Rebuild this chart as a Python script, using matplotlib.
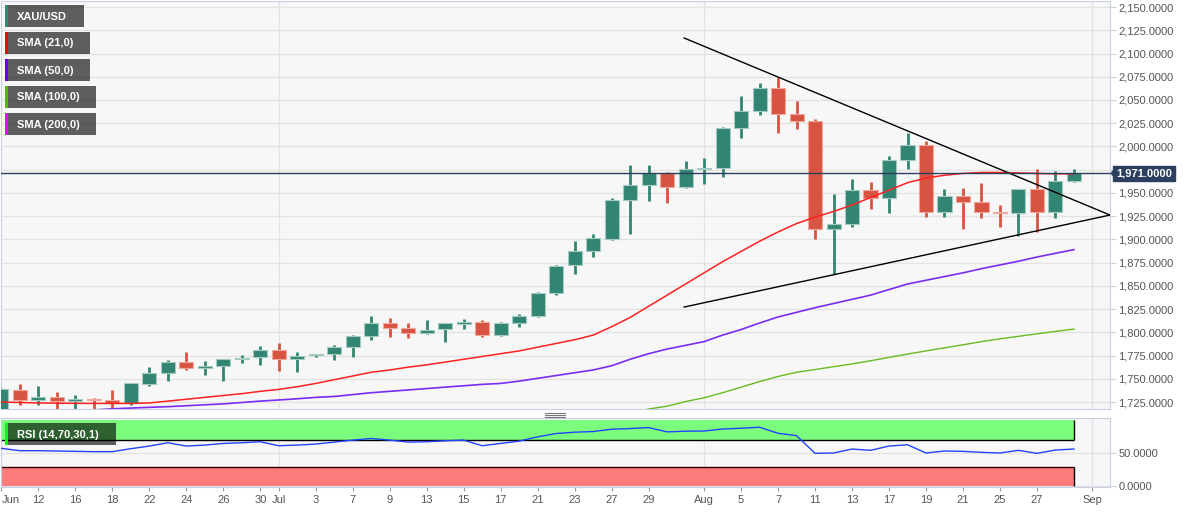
import matplotlib.pyplot as plt
from matplotlib.patches import Rectangle, Polygon
from matplotlib.lines import Line2D
import numpy as np

plt.rcParams['font.family'] = ['Liberation Sans', 'DejaVu Sans']

W, H = 1194, 513
nan = np.nan

# daily XAU/USD candles, 10 Jun .. 31 Aug 2020 (one per trading day)
opens = [1715, 1738, 1727.2, 1730.7, 1726, 1727.8, 1727.2, 1723.6, 1744.4, 1755.9,
         1768.4, 1761.2, 1764, 1771.3, 1773, 1781, 1771, 1775.2, 1776.6, 1784.5,
         1796, 1809.7, 1804.3, 1799.6, 1803.3, 1809, 1810.8, 1797.4, 1810.3, 1817.9,
         1842, 1872.4, 1887.5, 1900.5, 1942.4, 1958.6, 1971.5, 1956.4, 1975.5, 1976.8,
         2019.8, 2038, 2063, 2035, 2027.5, 1911, 1916.5, 1953, 1944.5, 1985.4,
         2002, 1929, 1946.7, 1940.5, 1929, 1928.7, 1953.8, 1929.7, 1963]
highs = [1740, 1744.4, 1742.2, 1736, 1732.5, 1729.6, 1738, 1746, 1763, 1770,
         1779, 1769, 1771.5, 1775.6, 1785.3, 1788, 1778.5, 1777, 1786.3, 1797,
         1817.5, 1815.4, 1809.7, 1813, 1810.5, 1814, 1813, 1810.8, 1819.7, 1843.4,
         1872.5, 1898, 1905.8, 1944.6, 1980, 1980, 1972, 1984, 1987.5, 2020.5,
         2054, 2068, 2075, 2049, 2029.6, 1948.8, 1965, 1961.7, 1989.7, 2014.8,
         2005.8, 1954, 1955, 1961, 1937, 1954.5, 1975.7, 1973.5, 1975.7]
lows = [1711, 1721.8, 1721.8, 1705, 1714, 1715, 1716, 1721.8, 1742.5, 1747.6,
        1760, 1754, 1748, 1766.6, 1764.8, 1758.7, 1757.6, 1773, 1770.2, 1773.7,
        1791.7, 1795.3, 1794.2, 1798, 1790, 1803.3, 1795.3, 1796.3, 1806, 1816,
        1840.5, 1862.7, 1881.3, 1899, 1906, 1941, 1939, 1955, 1960, 1967,
        2009, 2034, 2014.5, 2019, 1900.5, 1862.8, 1913, 1932.7, 1928.7, 1976,
        1924.4, 1924.4, 1911.5, 1923.3, 1913.7, 1903.6, 1908, 1923.3, 1962]
closes = [1738.5, 1727.2, 1730.7, 1726, 1728.2, 1726.8, 1723.6, 1745, 1755.9, 1768.4,
          1761.2, 1764, 1771.3, 1772.7, 1781, 1771, 1774.8, 1776.6, 1784.5, 1796,
          1809.7, 1804.3, 1799.6, 1802.7, 1809.5, 1810.7, 1797.4, 1809.7, 1817.9, 1842,
          1871.7, 1887.5, 1901, 1942.4, 1958.6, 1971.5, 1956.4, 1975.8, 1977, 2019.8,
          2038, 2063, 2035, 2027.5, 1911, 1916.2, 1953, 1944, 1985.4, 2002,
          1929, 1946.7, 1940.5, 1929, 1928.4, 1953.8, 1929.7, 1963, 1971]

sma21 = [1725, 1724.5, 1724, 1723.8, 1723.6, 1723.5, 1723.5, 1723.5, 1724, 1726,
         1728, 1730, 1732, 1734, 1736.5, 1738.6, 1741.5, 1745, 1749, 1753,
         1757, 1759.5, 1762.5, 1765, 1768, 1771, 1774, 1777, 1780, 1784,
         1788, 1792, 1797, 1806, 1816, 1828, 1840, 1852, 1864, 1876,
         1887, 1898, 1908, 1917, 1924, 1930, 1937, 1945, 1953, 1961,
         1966, 1969, 1971, 1972, 1972, 1971.5, 1971, 1970.5, 1970.5]
sma50 = [nan] * 5 + [1716.5, 1717.7, 1718.5, 1719.3, 1720,
                     1721, 1722, 1723, 1724.5, 1726, 1727.2, 1728.5, 1730, 1731, 1733,
                     1735, 1736.5, 1738, 1739.5, 1741, 1742.5, 1744, 1745, 1747.5, 1750.5,
                     1753.5, 1756.5, 1759.5, 1764, 1771, 1777, 1782, 1786, 1790, 1797,
                     1803, 1810, 1816.5, 1821.5, 1826.5, 1831, 1835.5, 1840, 1846, 1852,
                     1856, 1860, 1864, 1868.5, 1872.5, 1876.5, 1881, 1885, 1889]
sma100 = [nan] * 34 + [1713, 1717.5, 1720.5, 1725.5, 1729.6, 1735,
                       1741, 1747, 1752.5, 1757, 1760, 1763, 1766, 1769.4, 1773, 1776.6,
                       1780, 1783.3, 1786.6, 1790, 1793, 1795.7, 1798.4, 1801, 1803.5]
rsi = [57.5, 54, 54, 53.5, 53, 52.5, 52.5, 57, 61, 66,
       61, 62.5, 65, 66, 67.5, 61.5, 62.5, 64, 67, 70,
       72.5, 70, 67, 67.5, 69, 70, 61.5, 65, 68.5, 75,
       80, 82, 83, 86.5, 87.5, 89, 82.5, 83.5, 83.8, 86.8,
       88, 89.5, 80.3, 76.7, 50, 50.5, 56.5, 54.5, 61, 63,
       50.5, 53.5, 53, 51.5, 50.5, 54.5, 50, 55, 56.5]
last_price = 1971.0

# hand-drawn triangle (x in trading-day index)
trend_x = [36.92, 59.95]
upper_y = [2116.7, 1926.2]
lower_y = [1827.2, 1926.2]

price_ticks = list(range(1725, 2151, 25))
tick_pos = [0, 2, 4, 6, 8, 10, 12, 14, 15, 17, 19, 21, 23, 25, 27, 29, 31, 33, 35,
            38, 40, 42, 44, 46, 48, 50, 52, 54, 56, 59]
tick_lab = ['Jun', '12', '16', '18', '22', '24', '26', '30', 'Jul', '3', '7', '9', '13',
            '15', '17', '21', '23', '27', '29', 'Aug', '5', '7', '11', '13', '17', '19',
            '21', '25', '27', 'Sep']
month_pos = [15, 38, 59]

legend_names = ['XAU/USD', 'SMA (21,0)', 'SMA (50,0)', 'SMA (100,0)', 'SMA (200,0)']
legend_cols = ['#2f8a74', '#ff0000', '#6a00f0', '#55b800', '#ff00ff']

GREEN, RED = '#338573', '#d75442'
GRID = '#e3e3e3'
BORDER = '#c8d0e2'
NAVY = '#2c3f5e'

fig = plt.figure(figsize=(W / 100, H / 100), dpi=100, facecolor='white')
ax = fig.add_axes([1 / W, 1 - 409 / H, 1109 / W, 408 / H])
rax = fig.add_axes([1 / W, 1 - 487 / H, 1109 / W, 69 / H])

xlim = (-0.02, 59.95)
n = len(closes)
x = np.arange(n)

for a in (ax, rax):
    a.set_facecolor('#f7f7f7')
    a.set_xlim(*xlim)
    for s in a.spines.values():
        s.set_color(BORDER)
    for m in month_pos:
        a.axvline(m, color=GRID, lw=1, zorder=0)

# candles
o = np.array(opens); c = np.array(closes)
up = c >= o
cols = np.where(up, GREEN, RED)
edges = np.where(up, '#a3cbc1', '#eea99c')
ax.vlines(x, lows, highs, colors=cols, lw=2, zorder=2)
body = np.maximum(np.abs(c - o), 1.6)
ax.bar(x, body, bottom=np.minimum(o, c), width=0.76, color=cols,
       edgecolor=edges, linewidth=0.8, zorder=3)

ax.plot(x, sma100, color='#66bb22', lw=1, zorder=4)
ax.plot(x, sma50, color='#7a2cf0', lw=1.2, zorder=4)
ax.plot(x, sma21, color='#ff2020', lw=1.1, zorder=4)
ax.plot(trend_x, upper_y, color='black', lw=1, zorder=5)
ax.plot(trend_x, lower_y, color='black', lw=1, zorder=5)
ax.axhline(last_price, color=NAVY, lw=1, zorder=5)

ax.set_ylim(1717.5, 2156.5)
ax.yaxis.tick_right()
ax.set_yticks(price_ticks)
# the 1,975 label sits under the current-price tag
ax.set_yticklabels(['' if abs(v - last_price) < 10 else f"{v:,.4f}" for v in price_ticks])
ax.grid(axis='y', color=GRID, lw=1, zorder=0)
ax.set_axisbelow(True)
ax.tick_params(axis='y', length=4, color=BORDER, labelcolor='#555555', labelsize=8, pad=2)
ax.set_xticks([])

# RSI panel
rax.set_ylim(-1, 103.5)
rax.fill_between([xlim[0], n - 1], 70, 100, color='#7cfc7c', lw=0, zorder=1)
rax.fill_between([xlim[0], n - 1], 0, 30, color='#fc7c7c', lw=0, zorder=1)
rax.hlines([70, 30], xlim[0], n - 1, colors=['black', '#300000'], lw=1, zorder=2)
rax.vlines(n - 1, 70, 100, color='black', lw=1, zorder=2)
rax.vlines(n - 1, 0, 30, color='black', lw=1, zorder=2)
rax.plot(x, rsi, color='#2244ff', lw=1, zorder=3)
rax.yaxis.tick_right()
rax.set_yticks([0, 50])
rax.set_yticklabels(['0.0000', '50.0000'])
rax.grid(axis='y', color=GRID, lw=1, zorder=0)
rax.set_axisbelow(True)
rax.tick_params(axis='y', length=4, color=BORDER, labelcolor='#555555', labelsize=8, pad=2)
rax.set_xticks(tick_pos)
rax.set_xticklabels(tick_lab)
rax.tick_params(axis='x', length=3, color='#999999', labelcolor='#555555', labelsize=8, pad=3)
rax.get_xticklabels()[0].set_horizontalalignment('left')


def label_box(px, py, pw, ph, stripe, text):
    fig.add_artist(Rectangle((px / W, 1 - (py + ph) / H), pw / W, ph / H,
                             transform=fig.transFigure, facecolor='black', alpha=0.62,
                             lw=0, zorder=10))
    fig.add_artist(Rectangle((px / W, 1 - (py + ph) / H), 3 / W, ph / H,
                             transform=fig.transFigure, facecolor=stripe, lw=0, zorder=11))
    fig.text((px + 12) / W, 1 - (py + ph / 2 + 0.5) / H, text, color='white', fontsize=8,
             fontweight='bold', va='center', zorder=12)


widths = [79, 85, 85, 91, 91]
for k, (name, col) in enumerate(zip(legend_names, legend_cols)):
    label_box(5, 5 + 27 * k, widths[k], 22, col, name)
label_box(5, 423, 111, 22, '#00ff00', 'RSI (14,70,30,1)')

# current price tag
py = 402 - (last_price - 1725) * 0.9294
fig.add_artist(Polygon([(1110 / W, 1 - py / H), (1115 / W, 1 - (py - 5) / H),
                        (1115 / W, 1 - (py + 5) / H)], closed=True,
                       transform=fig.transFigure, facecolor=NAVY, lw=0, zorder=10))
fig.text(1116 / W, 1 - py / H, f"{last_price:,.4f}", color='white', fontsize=8,
         fontweight='bold', va='center', ha='left', zorder=12,
         bbox=dict(boxstyle='square,pad=0.25', facecolor=NAVY, edgecolor=NAVY))

# panel drag handle
for yy in (412.7, 414.7, 416.7):
    fig.add_artist(Line2D([545 / W, 565 / W], [1 - yy / H, 1 - yy / H],
                          transform=fig.transFigure, color='#777777', lw=0.8))

fig.savefig('out.png', dpi=100, facecolor='white')
